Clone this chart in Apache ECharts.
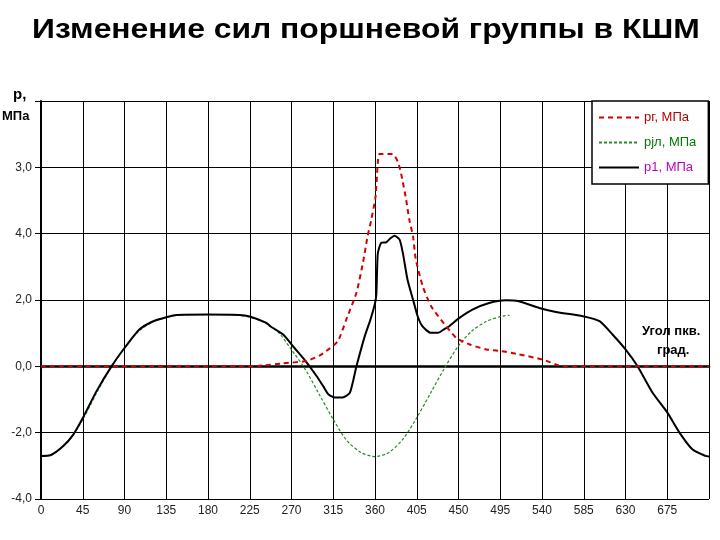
<!DOCTYPE html>
<html><head><meta charset="utf-8">
<script src="https://cdn.jsdelivr.net/npm/echarts@6/dist/echarts.min.js"></script>
<style>html,body{margin:0;padding:0;background:#fff}#c{width:720px;height:540px}</style>
</head><body><div id="c"></div>
<script>
var titleText = 'Изменение сил поршневой группы в КШМ';
var seriesNames = ['рг, МПа', 'рjл, МПа', 'р1, МПа'];
var xTickValues = [0,45,90,135,180,225,270,315,360,405,450,495,540,585,630,675,720];
var xTickLabels = ['0','45','90','135','180','225','270','315','360','405','450','495','540','585','630','675',''];
var yTickValues = [-4,-2,0,2,4,6,8];
var yTickLabels = ['-4,0','-2,0','0,0','2,0','4,0','3,0',''];

// gas pressure (red dashed)
var gasAngles = [0,225,240,261,286,300,307.5,320,329,340,347,352,356,360.6,363,365,379,384.6,388,393.6,397,401,404,411.5,420.5,431,447.5,462,480,496,515,540,558,565,720];
var gasValues = [0,0,0.03,0.09,0.16,0.32,0.46,0.76,1.41,2.22,3.12,3.92,4.42,5.12,6.13,6.4,6.4,6.17,5.83,5.02,4.42,3.92,3.22,2.41,1.81,1.41,0.86,0.66,0.51,0.46,0.36,0.21,0.03,0,0];

// inertia pressure (green dotted)
var jAngles = [0,10,15,30,45,60,75,90,105,120,135,150,165,180,195,210,225,240,255,270,285,300,315,330,345,355,360,365,375,390,405,420,435,450,465,480,495,505];
var jValues = [-2.7,-2.68,-2.62,-2.25,-1.6,-0.8,-0.05,0.55,1.05,1.33,1.48,1.55,1.56,1.56,1.56,1.55,1.48,1.33,1.05,0.5,-0.1,-0.85,-1.6,-2.25,-2.6,-2.7,-2.72,-2.7,-2.6,-2.2,-1.55,-0.8,-0.05,0.62,1.08,1.35,1.5,1.54];

// total pressure (black solid)
var totAngles = [0,10,24,35,45,60,76,91,106,121,136,146,180,214,225,243,247,261,273,286,297,304,310,317,325,333,340,349,355,360,361.5,363,366.6,372,377,381,386.5,390,395,401,406,411,420,428,435,440,451,465,483,501,515,537,555,584,602,616,630,643,659,675,688,702,716,720];
var totValues = [-2.7,-2.68,-2.4,-2.05,-1.56,-0.74,0,0.59,1.11,1.36,1.49,1.55,1.56,1.55,1.5,1.31,1.21,0.96,0.56,0.13,-0.29,-0.59,-0.85,-0.94,-0.94,-0.79,0,0.91,1.4,1.9,2.2,3.4,3.72,3.74,3.87,3.94,3.82,3.42,2.62,2.01,1.51,1.21,1.01,1.01,1.13,1.21,1.46,1.71,1.91,1.99,1.96,1.76,1.64,1.51,1.36,0.96,0.51,0,-0.79,-1.39,-1.99,-2.5,-2.7,-2.72];

function pairs(a, v){ return a.map(function(x,i){ return [x, v[i]]; }); }
function lookup(vals, labs, v){ var i = vals.indexOf(Math.round(v*1000)/1000); return i < 0 ? '' : labs[i]; }

var chart = echarts.init(document.getElementById('c'), null, {renderer:'canvas'});
var FONT = 'Liberation Sans, Arial, sans-serif';
chart.setOption({
  animation: false,
  backgroundColor: '#fff',
  grid: {left: 41, right: 11, top: 101, bottom: 41, containLabel: false},
  legend: {
    orient: 'vertical', left: 592, top: 101,
    itemWidth: 40, itemHeight: 12, itemGap: 12,
    padding: [10, 12, 10, 6],
    backgroundColor: '#fff', borderColor: '#000', borderWidth: 1.5,
    itemStyle: {opacity: 0},
    textStyle: {fontFamily: FONT, fontSize: 13},
    data: [
      {name: seriesNames[0], textStyle: {color: '#b80000'}},
      {name: seriesNames[1], textStyle: {color: '#007a00'}},
      {name: seriesNames[2], textStyle: {color: '#c000c0'}}
    ]
  },
  xAxis: {
    type: 'value', min: 0, max: 720, interval: 45,
    axisLine: {onZero: true, lineStyle: {color: '#000', width: 2.5}},
    axisTick: {show: true, length: 5, lineStyle: {color: '#000'}},
    axisLabel: {fontFamily: FONT, fontSize: 12, color: '#222', margin: 6,
      formatter: function(v){ return lookup(xTickValues, xTickLabels, v); }},
    splitLine: {show: true, lineStyle: {color: '#000', width: 1}}
  },
  yAxis: {
    type: 'value', min: -4, max: 8, interval: 2,
    axisLine: {show: true, onZero: false, lineStyle: {color: '#000', width: 2}},
    axisTick: {show: true, length: 6, lineStyle: {color: '#000'}},
    axisLabel: {fontFamily: FONT, fontSize: 12, color: '#222', margin: 9,
      formatter: function(v){ return lookup(yTickValues, yTickLabels, v); }},
    splitLine: {show: true, lineStyle: {color: '#000', width: 1}}
  },
  graphic: [
    {type: 'text', x: 366, y: 31, scaleX: 1.18, z: 10,
      style: {text: titleText, font: 'bold 27px ' + FONT, fill: '#000', textAlign: 'center', textVerticalAlign: 'middle'}},
    {type: 'text', left: 13, top: 87, style: {text: 'р,', font: 'bold 15px ' + FONT, fill: '#000'}},
    {type: 'text', left: 2, top: 110, style: {text: 'МПа', font: 'bold 13px ' + FONT, fill: '#000'}},
    {type: 'text', left: 642, top: 325, style: {text: 'Угол пкв.', font: 'bold 13px ' + FONT, fill: '#000'}},
    {type: 'text', left: 657, top: 344, style: {text: 'град.', font: 'bold 13px ' + FONT, fill: '#000'}}
  ],
  series: [
    {name: seriesNames[1], type: 'line', symbol: 'none', smooth: 0.3, z: 2,
      data: pairs(jAngles, jValues),
      lineStyle: {color: '#2a8a2a', width: 1.2, type: [3, 2]}, itemStyle: {color: '#2a8a2a'}},
    {name: seriesNames[2], type: 'line', symbol: 'none', smooth: 0.2, z: 3,
      data: pairs(totAngles, totValues),
      lineStyle: {color: '#000', width: 2}, itemStyle: {color: '#000'}},
    {name: seriesNames[0], type: 'line', symbol: 'none', smooth: 0.2, z: 4,
      data: pairs(gasAngles, gasValues),
      lineStyle: {color: '#d40000', width: 2, type: [5, 4]}, itemStyle: {color: '#d40000'}}
  ]
});
</script>
</body></html>
